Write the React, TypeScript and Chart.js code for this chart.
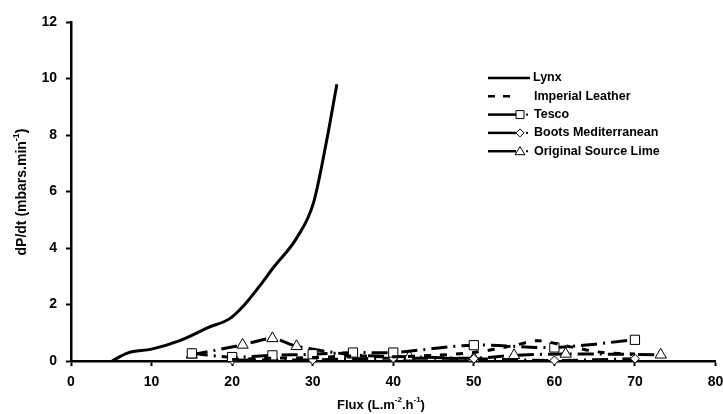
import React, { useEffect, useRef } from "react";
import { Chart, registerables } from "chart.js";

Chart.register(...registerables);

const xTicks = [0, 10, 20, 30, 40, 50, 60, 70, 80];
const yTicks = [0, 2, 4, 6, 8, 10, 12];

const seriesNames = ["Lynx", "Imperial Leather", "Tesco", "Boots Mediterranean", "Original Source Lime"];

const xTitleParts: [string, boolean][] = [["Flux (L.m", false], ["-2", true], [".h", false], ["-1", true], [")", false]];
const yTitleParts: [string, boolean][] = [["dP/dt (mbars.min", false], ["-1", true], [")", false]];

const lynxX = [5.1, 7, 10, 13.5, 17, 19.7, 21.4, 23.4, 25.1, 28, 30.1, 31.7, 33];
const lynxY = [0, 0.28, 0.42, 0.72, 1.18, 1.5, 1.95, 2.65, 3.3, 4.35, 5.6, 7.75, 9.8];

const imperialX = [20, 25, 30, 35, 40, 45, 50, 55, 58, 62, 66, 70];
const imperialY = [0.05, 0.1, 0.12, 0.18, 0.15, 0.2, 0.3, 0.55, 0.72, 0.5, 0.3, 0.25];

const tescoX = [15, 20, 25, 30, 35, 40, 50, 60, 70];
const tescoY = [0.27, 0.14, 0.2, 0.24, 0.3, 0.3, 0.56, 0.48, 0.75];

const bootsX = [20, 30, 40, 50, 60, 70];
const bootsY = [0.03, 0.04, 0.1, 0.08, 0.02, 0.08];

const limeX = [15, 21.3, 25, 28, 35, 42, 50, 55, 61.4, 73.2];
const limeY = [0.22, 0.57, 0.8, 0.52, 0.22, 0.15, 0.1, 0.2, 0.25, 0.22];

const FONT = "'Liberation Sans', Arial, sans-serif";

function pts(xs: number[], ys: number[]) {
  return xs.map((x, i) => ({ x, y: ys[i] }));
}

function drawSupText(ctx: CanvasRenderingContext2D, parts: [string, boolean][], size: number) {
  const big = `bold ${size}px ${FONT}`;
  const small = `bold ${Math.round(size * 0.62)}px ${FONT}`;
  let total = 0;
  parts.forEach(([t, sup]) => {
    ctx.font = sup ? small : big;
    total += ctx.measureText(t).width;
  });
  let x = -total / 2;
  ctx.textBaseline = "middle";
  ctx.textAlign = "left";
  parts.forEach(([t, sup]) => {
    ctx.font = sup ? small : big;
    ctx.fillText(t, x, sup ? -size * 0.38 : 0);
    x += ctx.measureText(t).width;
  });
}

const titlesPlugin = {
  id: "axisTitles",
  afterDraw(chart: any) {
    const ctx = chart.ctx as CanvasRenderingContext2D;
    ctx.save();
    ctx.fillStyle = "#000";
    ctx.translate(381, 405);
    drawSupText(ctx, xTitleParts, 13);
    ctx.restore();
    ctx.save();
    ctx.fillStyle = "#000";
    ctx.translate(22, 192);
    ctx.rotate(-Math.PI / 2);
    drawSupText(ctx, yTitleParts, 14);
    ctx.restore();
  },
};

const legendPlugin = {
  id: "customLegend",
  afterDraw(chart: any) {
    const ctx = chart.ctx as CanvasRenderingContext2D;
    const x0 = 488;
    const y0 = 78;
    const dy = 18.3;
    ctx.save();
    ctx.font = `bold 12.5px ${FONT}`;
    ctx.textBaseline = "middle";
    ctx.fillStyle = "#000";
    ctx.strokeStyle = "#000";
    seriesNames.forEach((name, i) => {
      const y = y0 + i * dy;
      ctx.lineWidth = 2.5;
      ctx.setLineDash([]);
      if (i === 0) {
        ctx.beginPath();
        ctx.moveTo(x0, y);
        ctx.lineTo(x0 + 42, y);
        ctx.stroke();
        ctx.fillText(name, x0 + 45, y);
        return;
      }
      if (i === 1) {
        ctx.beginPath();
        ctx.moveTo(x0, y);
        ctx.lineTo(x0 + 7, y);
        ctx.moveTo(x0 + 15, y);
        ctx.lineTo(x0 + 22, y);
        ctx.stroke();
        ctx.fillText(name, x0 + 46, y);
        return;
      }
      ctx.beginPath();
      ctx.moveTo(x0, y);
      ctx.lineTo(x0 + 28, y);
      ctx.stroke();
      ctx.fillRect(x0 + 38, y - 1, 2, 2);
      const mx = x0 + 32;
      ctx.lineWidth = 1;
      ctx.fillStyle = "#fff";
      ctx.beginPath();
      if (i === 2) {
        ctx.rect(mx - 4, y - 4, 8, 8);
      } else if (i === 3) {
        ctx.moveTo(mx, y - 4);
        ctx.lineTo(mx + 4, y);
        ctx.lineTo(mx, y + 4);
        ctx.lineTo(mx - 4, y);
        ctx.closePath();
      } else {
        ctx.moveTo(mx, y - 4.5);
        ctx.lineTo(mx + 5, y + 3.5);
        ctx.lineTo(mx - 5, y + 3.5);
        ctx.closePath();
      }
      ctx.fill();
      ctx.stroke();
      ctx.fillStyle = "#000";
      ctx.fillText(name, x0 + 46, y);
    });
    ctx.restore();
  },
};

export default function App() {
  const ref = useRef<HTMLCanvasElement | null>(null);
  useEffect(() => {
    if (!ref.current) return;
    const marker = {
      pointBackgroundColor: "#fff",
      pointBorderColor: "#000",
      pointBorderWidth: 1,
    };
    const chart = new Chart(ref.current, {
      type: "line",
      data: {
        datasets: [
          {
            label: seriesNames[0],
            data: pts(lynxX, lynxY),
            borderColor: "#000",
            borderWidth: 3,
            cubicInterpolationMode: "monotone",
            pointRadius: 0,
            clip: false,
          },
          {
            label: seriesNames[1],
            data: pts(imperialX, imperialY),
            borderColor: "#000",
            borderWidth: 3,
            borderDash: [7, 9],
            pointRadius: 0,
            tension: 0.3,
            clip: false,
          },
          {
            label: seriesNames[2],
            data: pts(tescoX, tescoY),
            borderColor: "#000",
            borderWidth: 3,
            borderDash: [16, 6, 2, 6],
            pointStyle: "rect",
            pointRadius: 6.5,
            tension: 0.3,
            clip: false,
            ...marker,
          },
          {
            label: seriesNames[3],
            data: pts(bootsX, bootsY),
            borderColor: "#000",
            borderWidth: 3,
            borderDash: [16, 6, 2, 6],
            pointStyle: "rectRot",
            pointRadius: 4.5,
            tension: 0.3,
            clip: false,
            ...marker,
          },
          {
            label: seriesNames[4],
            data: pts(limeX, limeY),
            borderColor: "#000",
            borderWidth: 3,
            borderDash: [16, 6, 2, 6],
            pointStyle: "triangle",
            pointRadius: 6.5,
            tension: 0.3,
            clip: false,
            ...marker,
          },
        ],
      },
      options: {
        animation: false,
        responsive: false,
        maintainAspectRatio: false,
        layout: { padding: { top: 22, right: 7, left: 0, bottom: 0 } },
        plugins: {
          legend: { display: false },
          tooltip: { enabled: false },
        },
        scales: {
          x: {
            type: "linear",
            min: 0,
            max: 80,
            afterBuildTicks: (scale: any) => {
              scale.ticks = xTicks.map((v) => ({ value: v }));
            },
            afterFit: (scale: any) => {
              scale.height = 53;
              scale.paddingRight = 0;
              scale.paddingLeft = 0;
            },
            border: { color: "#000", width: 2.5 },
            grid: {
              drawOnChartArea: false,
              drawTicks: true,
              tickLength: 5,
              tickWidth: 2,
              tickColor: "#000",
            },
            ticks: {
              color: "#000",
              font: { family: FONT, size: 14, weight: "bold" },
              padding: 8,
              maxRotation: 0,
            },
          },
          y: {
            type: "linear",
            min: 0,
            max: 12,
            afterBuildTicks: (scale: any) => {
              scale.ticks = yTicks.map((v) => ({ value: v }));
            },
            afterFit: (scale: any) => {
              scale.width = 71;
              scale.paddingTop = 0;
            },
            border: { color: "#000", width: 2.5 },
            grid: {
              drawOnChartArea: false,
              drawTicks: true,
              tickLength: 5,
              tickWidth: 2,
              tickColor: "#000",
            },
            ticks: {
              color: "#000",
              font: { family: FONT, size: 14, weight: "bold" },
              padding: 9,
            },
          },
        },
      },
      plugins: [legendPlugin, titlesPlugin],
    } as any);
    return () => chart.destroy();
  }, []);
  return (
    <div style={{ position: "fixed", left: 0, top: 0, width: 723, height: 414, background: "#fff" }}>
      <canvas ref={ref} width={723} height={414} style={{ width: 723, height: 414, display: "block" }} />
    </div>
  );
}
